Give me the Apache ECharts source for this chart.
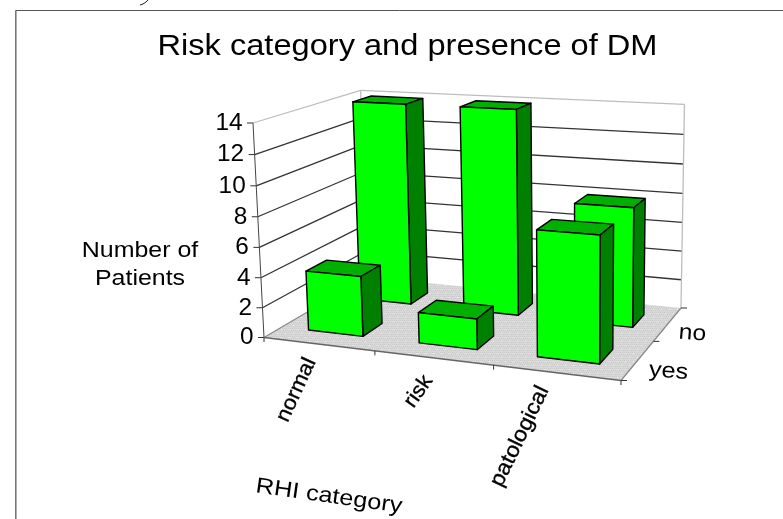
<!DOCTYPE html>
<html>
<head>
<meta charset="utf-8">
<style>html,body{margin:0;padding:0;background:#fff}#chart{width:783px;height:519px}</style>
<script src="https://cdn.jsdelivr.net/npm/echarts@6/dist/echarts.min.js"></script>
</head>
<body>
<div id="chart"></div>
<script>
// Patients per RHI category, split by presence of diabetes mellitus.
const categories = ['normal', 'risk', 'patological'];
const depthRows = ['yes', 'no'];
const valuesYes = [4, 2, 8];
const valuesNo = [14, 14, 8];
const valueTicks = [0, 2, 4, 6, 8, 10, 12, 14];

const FONT = '"Liberation Sans", Arial, sans-serif';
const GREEN_FRONT = '#00ff00', GREEN_TOP = '#00b000', GREEN_SIDE = '#008000';

// Box corners on screen: floor front-left/front-right/back-right/back-left, and top of the front-left edge.
const floorCorners = [[264, 337.5], [621, 380.5], [681, 308], [367, 277]];
const topFrontLeft = [253, 123];
const heightPerspective = -0.034;

// Solve the floor homography, then extend it with the vertical direction.
function buildCamera() {
  const [p0, p1, p2, p3] = floorCorners;
  const dx1 = p1[0] - p2[0], dx2 = p3[0] - p2[0], sx = p0[0] - p1[0] + p2[0] - p3[0];
  const dy1 = p1[1] - p2[1], dy2 = p3[1] - p2[1], sy = p0[1] - p1[1] + p2[1] - p3[1];
  const det = dx1 * dy2 - dx2 * dy1;
  const a = (sx * dy2 - dx2 * sy) / det;
  const b = (dx1 * sy - sx * dy1) / det;
  const c = heightPerspective;
  const A = [p1[0] * (1 + a) - p0[0], p1[1] * (1 + a) - p0[1]];
  const B = [p3[0] * (1 + b) - p0[0], p3[1] * (1 + b) - p0[1]];
  const C = [topFrontLeft[0] * (1 + c) - p0[0], topFrontLeft[1] * (1 + c) - p0[1]];
  return (u, v, z) => {
    const w = 1 + a * u + b * v + c * z;
    return [
      (p0[0] + A[0] * u + B[0] * v + C[0] * z) / w,
      (p0[1] + A[1] * u + B[1] * v + C[1] * z) / w
    ];
  };
}
const project = buildCamera();

// Fine stipple used on the floor of the box.
function floorPattern() {
  const c = document.createElement('canvas');
  c.width = 8; c.height = 8;
  const g = c.getContext('2d');
  g.fillStyle = '#d8d8d8';
  g.fillRect(0, 0, 8, 8);
  g.fillStyle = '#cacaca';
  for (let y = 0; y < 8; y += 2) for (let x = (y % 4) / 2; x < 8; x += 2) g.fillRect(x, y, 1, 1);
  g.fillStyle = '#f6f6f6';
  g.fillRect(1, 1, 1, 1);
  g.fillRect(5, 5, 1, 1);
  return { image: c, repeat: 'repeat' };
}
const floorFill = floorPattern();

const poly = (points, fill, stroke, lineWidth) => ({
  type: 'polygon',
  shape: { points },
  style: { fill: fill, stroke: stroke || null, lineWidth: lineWidth || 1, lineJoin: 'round' },
  silent: true
});
const seg = (a, b, stroke, lineWidth) => ({
  type: 'line',
  shape: { x1: a[0], y1: a[1], x2: b[0], y2: b[1] },
  style: { stroke, lineWidth: lineWidth || 1, fill: null },
  silent: true
});
const label = (text, x, y, size, rotation, align, stretch) => ({
  type: 'text',
  x, y, rotation: rotation || 0, scaleX: stretch || 1,
  style: { text, font: size + 'px ' + FONT, fill: '#000', align: align || 'center', verticalAlign: 'middle' },
  silent: true
});

// The plot frame: walls, floor, gridlines, ticks and tick labels.
function renderFrame(params, api) {
  const sys = params.coordSys;
  const zOf = v => (sys.y + sys.height - api.coord([0, v])[1]) / sys.height;
  const zMax = zOf(valueTicks[valueTicks.length - 1]);
  const kids = [];
  const FL = project(0, 0, 0), FR = project(1, 0, 0), BR = project(1, 1, 0), BL = project(0, 1, 0);
  kids.push(poly([FL, FR, BR, BL], floorFill));
  valueTicks.forEach(t => {
    const z = zOf(t);
    const col = t === 14 ? '#bdbdbd' : '#333333';
    const a = project(0, 0, z), b = project(0, 1, z), c = project(1, 1, z);
    if (t > 0) {
      kids.push(seg(a, b, col, 1.3));
      kids.push(seg(b, c, col, 1.3));
    }
    kids.push(seg([a[0] - 6, a[1]], a, '#333', 1));
    kids.push(label(String(t), a[0] - 10.5, a[1] + 0.5, 23, 0, 'right', 1.06));
  });
  kids.push(seg(project(0, 1, 0), project(0, 1, zMax), '#bdbdbd', 1.3));
  kids.push(seg(project(1, 1, 0), project(1, 1, zMax), '#bdbdbd', 1.3));
  kids.push(seg(FL, project(0, 0, zMax), '#444', 1));
  kids.push(seg(FL, BL, '#888', 1.2));
  kids.push(seg(FL, FR, '#666', 1.6));
  kids.push(seg(FR, BR, '#888', 1.2));

  // Category ticks hang under the front edge, depth ticks stick out of the right edge.
  for (let i = 0; i <= categories.length; i++) {
    const p = project(i / categories.length, 0, 0);
    kids.push(seg(p, [p[0], p[1] + 4.5], '#333', 1));
  }
  for (let i = 0; i <= depthRows.length; i++) {
    const p = project(1, i / depthRows.length, 0);
    kids.push(seg(p, [p[0] + 6, p[1]], '#333', 1));
  }
  return { type: 'group', children: kids };
}

// One box per value: front, side and top faces with black outlines.
function renderBar(params, api) {
  const sys = params.coordSys;
  const slots = categories.length;
  const cat = api.value(0), row = api.value(1), val = api.value(2);
  const z = (sys.y + sys.height - api.coord([cat, val])[1]) / sys.height;
  const u0 = (cat + 0.25) / slots, u1 = (cat + 0.75) / slots;
  const v0 = (row + 0.31) / 2, v1 = (row + 0.69) / 2;
  const p = project;
  return {
    type: 'group',
    children: [
      poly([p(u0, v0, z), p(u1, v0, z), p(u1, v1, z), p(u0, v1, z)], GREEN_TOP, '#000', 1.4),
      poly([p(u1, v0, 0), p(u1, v1, 0), p(u1, v1, z), p(u1, v0, z)], GREEN_SIDE, '#000', 1.4),
      poly([p(u0, v0, 0), p(u1, v0, 0), p(u1, v0, z), p(u0, v0, z)], GREEN_FRONT, '#000', 1.4)
    ]
  };
}

// Back row first so the nearer boxes overlap it.
const rowNo = valuesNo.map((v, i) => [i, 1, v]);
const rowYes = valuesYes.map((v, i) => [i, 0, v]);

const text = (content, x, y, size, rotation, stretch, extra) => ({
  type: 'text', x, y, rotation: rotation || 0, scaleX: stretch || 1,
  style: Object.assign({ text: content, font: size + 'px ' + FONT, fill: '#000', align: 'center', verticalAlign: 'middle' }, extra || {})
});
const heavier = { stroke: '#000', lineWidth: 0.35 };

const chart = echarts.init(document.getElementById('chart'), null, { renderer: 'canvas' });
chart.setOption({
  animation: false,
  backgroundColor: '#fff',
  grid: { left: 264, top: 123, width: 357, height: 214 },
  xAxis: { type: 'value', min: 0, max: 3, show: false },
  yAxis: { type: 'value', min: 0, max: 14, interval: 2, show: false },
  series: [
    { type: 'custom', coordinateSystem: 'cartesian2d', silent: true, data: [[0, 0]], renderItem: renderFrame, z: 1, clip: false },
    { type: 'custom', coordinateSystem: 'cartesian2d', silent: true, data: rowNo, renderItem: renderBar, z: 2, clip: false,
      encode: { x: 0, y: 2 } },
    { type: 'custom', coordinateSystem: 'cartesian2d', silent: true, data: rowYes, renderItem: renderBar, z: 3, clip: false,
      encode: { x: 0, y: 2 } }
  ],
  graphic: [
    { type: 'line', shape: { x1: 15.5, y1: 10.5, x2: 783, y2: 10.5 }, style: { stroke: '#555', lineWidth: 1 } },
    { type: 'line', shape: { x1: 15.8, y1: 10.5, x2: 15.8, y2: 519 }, style: { stroke: '#777', lineWidth: 1.6 } },
    { type: 'polyline', shape: { points: [[148, 0], [146, 2], [143, 4], [140, 5]] }, style: { stroke: '#222', lineWidth: 1, fill: null } },
    text('Risk category and presence of DM', 407.5, 46.5, 29, 0, 1.124),
    text('Number of\nPatients', 140, 265.5, 21.5, 0, 1.16, { lineHeight: 28 }),
    text('RHI category', 329, 496.5, 22, -0.14, 1.15),
    text(categories[0], 296.5, 390, 21, 1.14, 1.06, heavier),
    text(categories[1], 418.5, 391.5, 21, 0.96, 1.04, heavier),
    text(categories[2], 520, 436.5, 21.5, 1.12, 1.06, heavier),
    text(depthRows[1], 692.5, 333.5, 22, -0.08, 1.12),
    text(depthRows[0], 668.5, 371.5, 22, -0.08, 1.15)
  ]
});
</script>
</body>
</html>
